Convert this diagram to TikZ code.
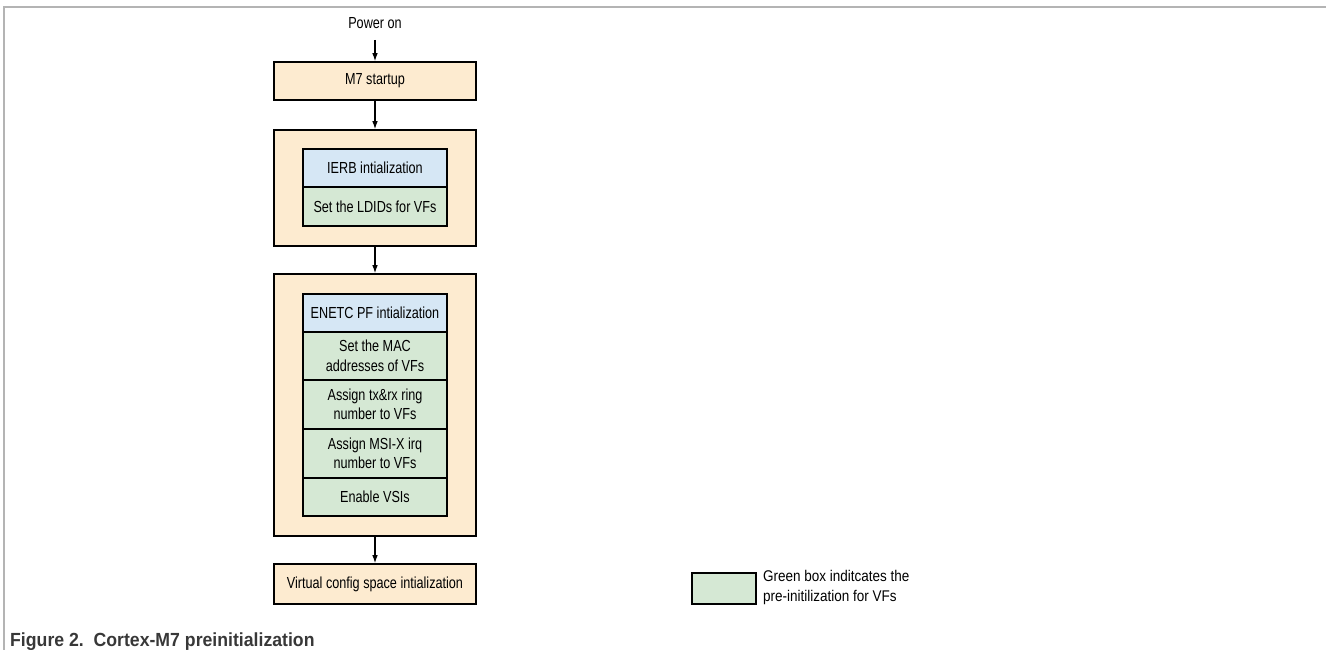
\documentclass[tikz,border=0pt]{standalone}
\usepackage{fontspec}
\setmainfont{Liberation Sans}
\newfontfamily\boxfont[FakeStretch=0.79]{Liberation Sans}
\newfontfamily\keyfont[FakeStretch=0.87]{Liberation Sans}
\newfontfamily\capfont[FakeStretch=0.93]{Liberation Sans}
\usetikzlibrary{arrows.meta}

\definecolor{peach}{HTML}{FDEBD0}
\definecolor{paleblue}{HTML}{D6E7F5}
\definecolor{palegreen}{HTML}{D5E8D4}
\definecolor{framegray}{HTML}{B4B4B4}
\definecolor{captext}{HTML}{383838}

\tikzset{
  base/.style={draw=black, line width=1.6pt, inner sep=0pt, align=center,
    font=\boxfont\fontsize{16}{19.5}\selectfont, text=black},
  stagebox/.style={base, fill=peach, minimum width=202pt},
  pfbox/.style={base, fill=paleblue, minimum width=144pt},
  vfbox/.style={base, fill=palegreen, minimum width=144pt},
  arr/.style={line width=1.1pt, -{Latex[length=8pt,width=5.5pt]}},
  plain/.style={inner sep=0pt, font=\boxfont\fontsize{16}{19.5}\selectfont},
  keylabel/.style={inner sep=0pt, font=\keyfont\fontsize{15.5}{20}\selectfont}
}

\begin{document}
\begin{tikzpicture}[x=1pt,y=-1pt]
  \useasboundingbox (0,0) rectangle (1326,650);

  % figure frame (top and left rules)
  \draw[framegray, line width=1.5pt] (4,650) -- (4,7) -- (1326,7);

  % start label
  \node[plain] (power) at (375,23) {Power on};

  % first stage
  \node[stagebox, minimum height=38pt] (m7) at (375,81) {M7 startup};

  % second stage: IERB
  \node[stagebox, minimum height=116pt] (stage2) at (375,188) {};
  \node[pfbox, minimum height=38pt] (ierb) at (375,168) {IERB intialization};
  \node[vfbox, minimum height=39pt] (ldid) at (375,206.5) {Set the LDIDs for VFs};

  % third stage: ENETC PF
  \node[stagebox, minimum height=262pt] (stage3) at (375,405) {};
  \node[pfbox, minimum height=38pt] (enetc) at (375,313) {ENETC PF intialization};
  \node[vfbox, minimum height=48pt] (mac) at (375,356) {Set the MAC\\addresses of VFs};
  \node[vfbox, minimum height=49pt] (ring) at (375,404.5) {Assign tx\&rx ring\\number to VFs};
  \node[vfbox, minimum height=49pt] (msix) at (375,453.5) {Assign MSI-X irq\\number to VFs};
  \node[vfbox, minimum height=38pt] (vsi) at (375,497) {Enable VSIs};

  % last stage
  \node[stagebox, minimum height=40pt] (vcfg) at (375,584) {Virtual config space intialization};

  % flow
  \draw[arr, shorten <=11pt] (power.south) -- (m7.north);
  \draw[arr] (m7.south) -- (stage2.north);
  \draw[arr] (stage2.south) -- (stage3.north);
  \draw[arr] (stage3.south) -- (vcfg.north);

  % legend
  \node[vfbox, minimum width=64pt, minimum height=31pt] (key) at (724,588.5) {};
  \node[keylabel, anchor=west, align=left] (keytext) at (763,587)
    {Green box inditcates the\\pre-initilization for VFs};

  % caption
  \node[inner sep=0pt, anchor=base west, text=captext,
    font=\capfont\bfseries\fontsize{19}{23}\selectfont] (caption) at (10,646)
    {Figure 2.\ \ Cortex-M7 preinitialization};
\end{tikzpicture}
\end{document}
